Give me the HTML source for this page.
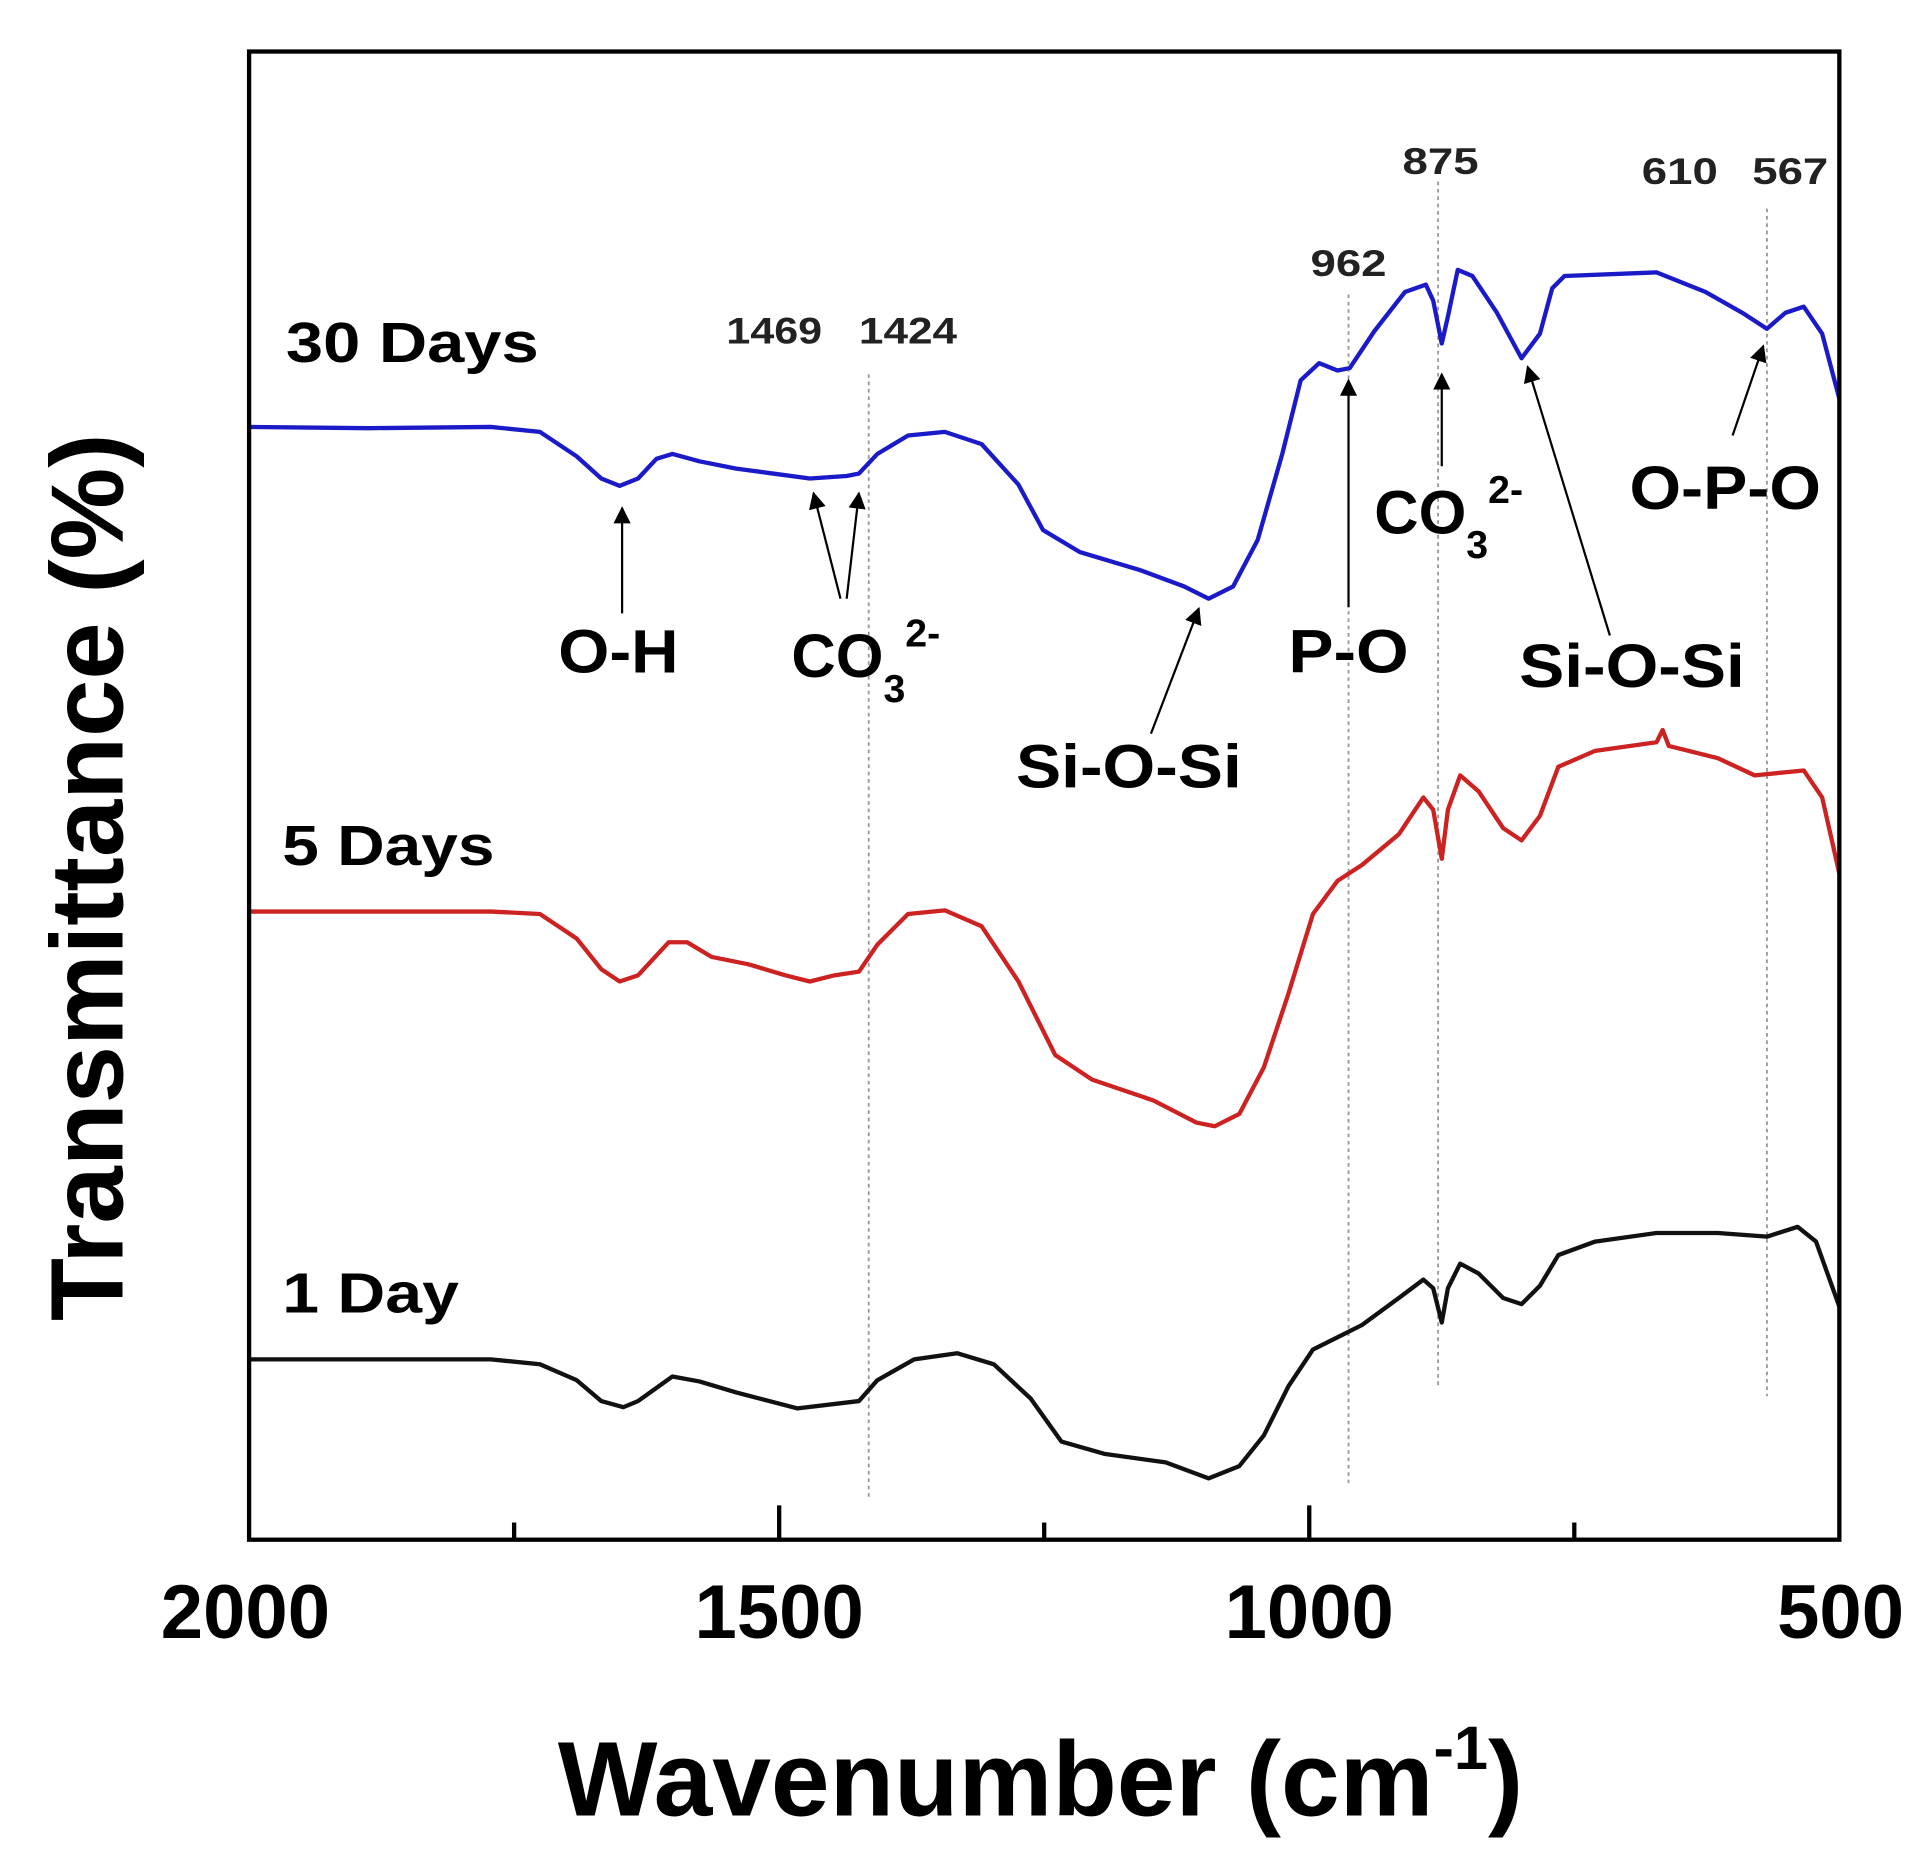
<!DOCTYPE html>
<html><head><meta charset="utf-8"><style>html,body{margin:0;padding:0;background:#fff}svg{display:block}</style></head>
<body>
<svg width="1924" height="1855" viewBox="0 0 1568 1512" preserveAspectRatio="none" xmlns="http://www.w3.org/2000/svg" font-family="Liberation Sans, Arial, sans-serif" font-weight="bold">
<defs>
<marker id="ah2" viewBox="0 0 10 10" markerWidth="14" markerHeight="14" refX="9" refY="5" orient="auto" markerUnits="userSpaceOnUse"><path d="M0,0 L10,5 L0,10 z" fill="#000"/></marker></defs>
<rect width="1568" height="1512" fill="#fff"/>
<g stroke="#999" stroke-width="1.5" stroke-dasharray="3,3">
<line x1="708" y1="305" x2="708" y2="1222"/><line x1="1099" y1="240" x2="1099" y2="1212"/>
<line x1="1172" y1="148" x2="1172" y2="1130"/><line x1="1440" y1="170" x2="1440" y2="1138"/></g>
<g fill="none" stroke-width="3.5" stroke-linejoin="round">
<polyline stroke="#1a1ac8" points="203,348 300,349 400,348 440,352 470,372 490,390 505,396 520,390 535,374 548,370 570,376 600,382 630,386 660,390 690,388 700,386 715,370 740,355 770,352 800,362 830,395 850,432 880,450 930,465 965,478 985,488 1005,478 1025,440 1045,370 1060,310 1075,296 1090,302 1100,300 1120,270 1145,238 1162,232 1168,245 1175,280 1180,258 1188,220 1200,225 1220,255 1240,292 1255,272 1265,235 1275,225 1350,222 1390,238 1420,255 1440,268 1455,255 1470,250 1485,272 1499,325"/>
<polyline stroke="#cc2222" points="203,743 300,743 400,743 440,745 470,765 490,790 505,800 520,795 545,768 560,768 580,780 610,786 640,795 660,800 680,795 700,792 715,770 740,745 770,742 800,755 830,800 860,860 890,880 940,897 975,915 990,918 1010,908 1030,870 1050,810 1070,745 1090,718 1110,705 1140,680 1160,650 1168,660 1175,700 1180,660 1190,632 1205,645 1225,675 1240,685 1255,665 1270,625 1300,612 1350,605 1355,595 1360,608 1400,618 1430,632 1450,630 1470,628 1485,650 1499,712"/>
<polyline stroke="#111" points="203,1108 300,1108 400,1108 440,1112 470,1125 490,1142 508,1147 520,1142 548,1122 570,1126 600,1135 650,1148 700,1142 715,1125 745,1108 780,1103 810,1112 840,1140 865,1175 900,1185 950,1192 985,1205 1010,1195 1030,1170 1050,1130 1070,1100 1090,1090 1110,1080 1140,1058 1160,1043 1168,1050 1175,1078 1180,1050 1190,1030 1205,1038 1225,1058 1240,1063 1255,1048 1270,1023 1300,1012 1350,1005 1400,1005 1440,1008 1465,1000 1480,1012 1499,1065"/>
</g>
<rect x="203" y="42" width="1296" height="1213" fill="none" stroke="#000" stroke-width="3.5"/>
<g stroke="#000" stroke-width="3.5">
<line x1="419" y1="1255" x2="419" y2="1241"/><line x1="635" y1="1255" x2="635" y2="1227"/>
<line x1="851" y1="1255" x2="851" y2="1241"/><line x1="1067" y1="1255" x2="1067" y2="1227"/>
<line x1="1283" y1="1255" x2="1283" y2="1241"/></g>
<g font-size="62" text-anchor="middle">
<text x="200" y="1335">2000</text><text x="635" y="1335">1500</text><text x="1067" y="1335">1000</text><text x="1500" y="1335">500</text></g>
<text x="848" y="1480" font-size="86" text-anchor="middle">Wavenumber (cm<tspan font-size="50" dy="-38">-1</tspan><tspan dy="38">)</tspan></text>
<text transform="translate(100,715) rotate(-90)" font-size="84" text-anchor="middle">Transmittance (%)</text>
<g font-size="46" lengthAdjust="spacingAndGlyphs"><text x="233" y="295" textLength="206" lengthAdjust="spacingAndGlyphs">30 Days</text><text x="230" y="705" textLength="173" lengthAdjust="spacingAndGlyphs">5 Days</text><text x="230" y="1070" textLength="144" lengthAdjust="spacingAndGlyphs">1 Day</text></g>
<g font-size="30" fill="#222"><text x="592" y="280" textLength="78" lengthAdjust="spacingAndGlyphs">1469</text><text x="700" y="280" textLength="80" lengthAdjust="spacingAndGlyphs">1424</text><text x="1068" y="225" textLength="62" lengthAdjust="spacingAndGlyphs">962</text><text x="1143" y="142" textLength="62" lengthAdjust="spacingAndGlyphs">875</text><text x="1338" y="150" textLength="62" lengthAdjust="spacingAndGlyphs">610</text><text x="1428" y="150" textLength="62" lengthAdjust="spacingAndGlyphs">567</text></g>
<g font-size="50">
<text x="455" y="548" textLength="98" lengthAdjust="spacingAndGlyphs">O-H</text>
<text x="645" y="552">CO<tspan font-size="32" dy="20">3</tspan><tspan font-size="32" dy="-45">2-</tspan></text>
<text x="828" y="642" textLength="184" lengthAdjust="spacingAndGlyphs">Si-O-Si</text>
<text x="1050" y="548" textLength="98" lengthAdjust="spacingAndGlyphs">P-O</text>
<text x="1120" y="435">CO<tspan font-size="32" dy="20">3</tspan><tspan font-size="32" dy="-45">2-</tspan></text>
<text x="1238" y="560" textLength="184" lengthAdjust="spacingAndGlyphs">Si-O-Si</text>
<text x="1328" y="415" textLength="156" lengthAdjust="spacingAndGlyphs">O-P-O</text></g>
<g stroke="#000" stroke-width="1.8" marker-end="url(#ah2)">
<line x1="507" y1="500" x2="507" y2="414"/>
<line x1="685" y1="488" x2="663" y2="402"/><line x1="690" y1="488" x2="700" y2="402"/>
<line x1="938" y1="598" x2="977" y2="496"/>
<line x1="1099" y1="495" x2="1099" y2="310"/>
<line x1="1175" y1="380" x2="1175" y2="305"/>
<line x1="1312" y1="518" x2="1245" y2="299"/>
<line x1="1412" y1="355" x2="1437" y2="282"/></g>
</svg>
</body></html>
